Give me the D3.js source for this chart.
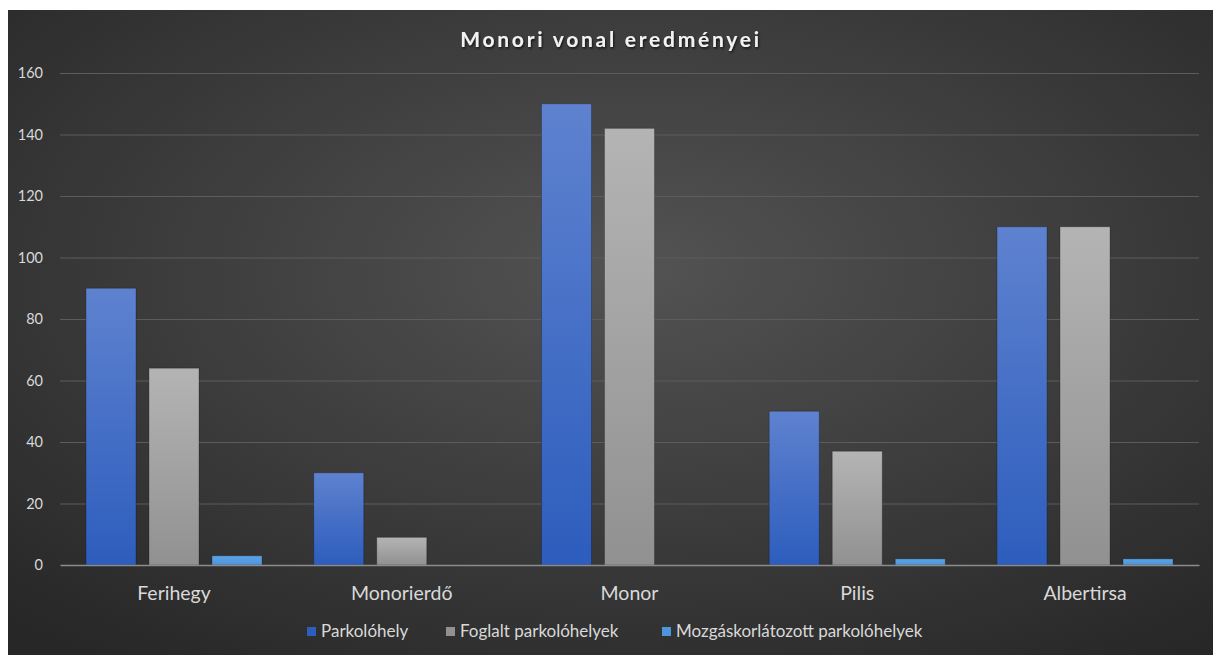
<!DOCTYPE html>
<html><head><meta charset="utf-8">
<script src="https://cdn.jsdelivr.net/npm/d3@7"></script>
<style>
html,body{margin:0;padding:0;background:#fff;}
svg{display:block;}
text{font-family:Lato,"Open Sans",sans-serif;}
</style></head>
<body><svg id="chart" width="1213" height="655"></svg>
<script>
const categories = ["Ferihegy","Monorierdő","Monor","Pilis","Albertirsa"];
const seriesNames = ["Parkolóhely","Foglalt parkolóhelyek","Mozgáskorlátozott parkolóhelyek"];
const parkolohely = [90,30,150,50,110];
const foglalt = [64,9,142,37,110];
const mozgaskorlatozott = [3,0,0,2,2];
const yTicks = [0,20,40,60,80,100,120,140,160];
const title = "Monori vonal eredményei";

const series = [parkolohely, foglalt, mozgaskorlatozott];
const svg = d3.select("#chart");
const defs = svg.append("defs");

const bg = defs.append("radialGradient").attr("id","bg").attr("cx","52%").attr("cy","40%").attr("r","75%");
bg.append("stop").attr("offset","0%").attr("stop-color","#535353");
bg.append("stop").attr("offset","100%").attr("stop-color","#272727");

const grads = [["#5e82cf","#2d5dbd"],["#b4b4b4","#919191"],["#5ba3e6","#4e95dc"]];
grads.forEach((g,i)=>{
  const lg = defs.append("linearGradient").attr("id","g"+i).attr("x1",0).attr("y1",0).attr("x2",0).attr("y2",1);
  lg.append("stop").attr("offset","0%").attr("stop-color",g[0]);
  lg.append("stop").attr("offset","100%").attr("stop-color",g[1]);
});
const sh = defs.append("filter").attr("id","ts").attr("x","-10%").attr("y","-30%").attr("width","120%").attr("height","160%");
sh.append("feDropShadow").attr("dx",1).attr("dy",1.5).attr("stdDeviation",1.2).attr("flood-color","#000").attr("flood-opacity",0.7);

svg.append("rect").attr("x",8).attr("y",10).attr("width",1205).attr("height",645).attr("fill","url(#bg)");

const pLeft = 60, pRight = 1199, pTop = 73, pBottom = 565;
const y = d3.scaleLinear().domain([0,160]).range([pBottom, pTop]);
const x0 = d3.scaleBand().domain(categories).range([pLeft,pRight]).paddingInner(0.227).paddingOuter(0.114);
const x1 = d3.scaleBand().domain(d3.range(3)).range([0, x0.bandwidth()]).paddingInner(0.206).paddingOuter(0);

// gridlines
const yAxis = d3.axisLeft(y).tickValues(yTicks).tickSize(-(pRight-pLeft)).tickFormat(d3.format("d"));
const ga = svg.append("g").attr("transform",`translate(${pLeft},0)`).call(yAxis);
ga.select(".domain").remove();
ga.selectAll(".tick line").attr("stroke","#5c5c5c").attr("stroke-width",1);
ga.selectAll(".tick text").attr("fill","#d9d9d9").attr("font-size",14.5).attr("x",-17).attr("text-anchor","end");
ga.selectAll(".tick").filter(d=>d===0).select("line").remove();

// bars
const groups = svg.append("g").selectAll("g").data(categories).join("g")
  .attr("transform", d=>`translate(${x0(d)},0)`);
groups.selectAll("rect").data((d,ci)=>series.map((s,si)=>({si, v:s[ci]})).filter(e=>e.v>0)).join("rect")
  .attr("x", d=>x1(d.si)).attr("width", x1.bandwidth())
  .attr("y", d=>y(d.v)).attr("height", d=>y(0)-y(d.v))
  .attr("fill", d=>`url(#g${d.si})`)
  .attr("stroke","rgba(0,0,0,0.25)").attr("stroke-width",1);

// x axis
const xAxis = d3.axisBottom(x0).tickSize(0);
const gx = svg.append("g").attr("transform",`translate(0,${pBottom})`).call(xAxis);
gx.select(".domain").attr("stroke","#8c8c8c").attr("stroke-width",1.5);
gx.selectAll(".tick text").attr("fill","#d9d9d9").attr("font-size",19.5).attr("dy","0.35em").attr("y",28);

// title
svg.append("text").attr("x",611).attr("y",47).attr("text-anchor","middle")
  .attr("fill","#f2f2f2").attr("font-size",21).attr("font-weight","bold")
  .attr("letter-spacing",2.75).attr("filter","url(#ts)").text(title);

// legend
const legX = [307, 446, 662];
const leg = svg.append("g").selectAll("g").data(seriesNames).join("g")
  .attr("transform",(d,i)=>`translate(${legX[i]},631.5)`);
leg.append("rect").attr("x",0).attr("y",-4.5).attr("width",9).attr("height",9).attr("fill",(d,i)=>grads[i][1]);
leg.append("text").attr("x",14).attr("y",5.5).attr("fill","#d9d9d9").attr("font-size",17).text(d=>d);
</script></body></html>
